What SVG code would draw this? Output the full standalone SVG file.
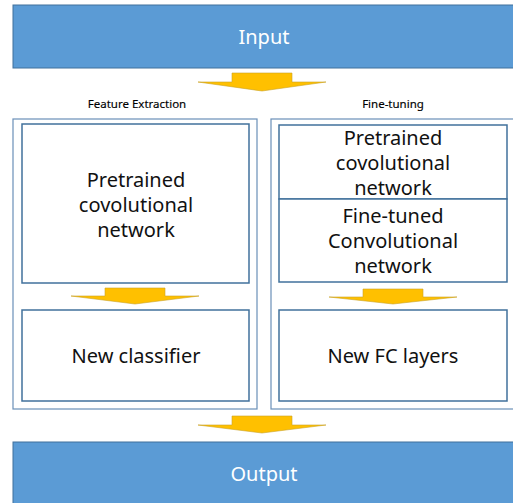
<svg xmlns="http://www.w3.org/2000/svg" width="513" height="503" viewBox="0 0 513 503">
<style>
.band{fill:#5B9BD5;stroke:#41719C;stroke-width:1}
.outer{fill:#fff;stroke:#6A8FB8;stroke-width:1.2}
.box{fill:#fff;stroke:#41719C;stroke-width:1.5}
.arrow{fill:#FFC000;stroke:#C9A227;stroke-width:0.6}
text{font-family:"Noto Sans","Open Sans","Liberation Sans",sans-serif;text-anchor:middle}
.wt{fill:#fff;font-size:20px}
.bt{fill:#111;font-size:20px}
.lb{fill:#000;font-size:11.5px;stroke:#000;stroke-width:0.15}
</style>
<rect width="513" height="503" fill="#fff"/>
<g id="input"><rect class="band" x="13" y="5" width="505" height="63"/><text class="wt" x="264" y="44">Input</text></g>
<g id="output"><rect class="band" x="13" y="442" width="505" height="66"/><text class="wt" x="264" y="481">Output</text></g>
<g id="fe-label"><text class="lb" x="137" y="108">Feature Extraction</text></g>
<g id="ft-label"><text class="lb" x="393" y="108">Fine-tuning</text></g>
<g id="fe-group"><rect class="outer" x="13" y="119" width="244" height="290"/></g>
<g id="ft-group"><rect class="outer" x="271" y="119" width="246" height="290"/></g>
<g id="fe-pretrained"><rect class="box" x="22" y="124" width="227" height="159"/>
<text class="bt" x="136" y="187">Pretrained</text><text class="bt" x="136" y="212">covolutional</text><text class="bt" x="136" y="237">network</text></g>
<g id="fe-classifier"><rect class="box" x="22" y="310" width="227" height="91"/><text class="bt" x="136" y="363">New classifier</text></g>
<g id="ft-pretrained"><rect class="box" x="279" y="125" width="228" height="74"/>
<text class="bt" x="393" y="145">Pretrained</text><text class="bt" x="393" y="170">covolutional</text><text class="bt" x="393" y="195">network</text></g>
<g id="ft-finetuned"><rect class="box" x="279" y="199" width="228" height="83"/>
<text class="bt" x="393" y="223">Fine-tuned</text><text class="bt" x="393" y="248">Convolutional</text><text class="bt" x="393" y="273">network</text></g>
<g id="ft-fc"><rect class="box" x="279" y="310" width="228" height="91"/><text class="bt" x="393" y="363">New FC layers</text></g>
<g id="connectors">
<path class="arrow" d="M232 73H292V82H326L262 91L198 82H232Z"/>
<path class="arrow" d="M105 288H165V296H199L135 304L71 296H105Z"/>
<path class="arrow" d="M363 289H423V297H457L393 304L329 297H363Z"/>
<path class="arrow" d="M232 416H292V425H326L262 433L198 425H232Z"/>
</g>
</svg>
